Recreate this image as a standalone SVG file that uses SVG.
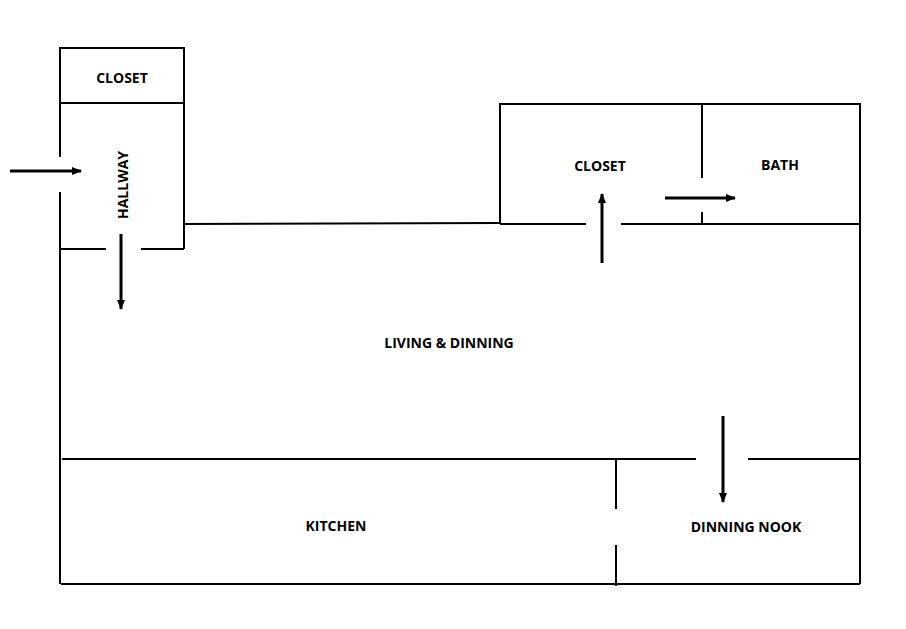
<svg xmlns="http://www.w3.org/2000/svg" width="906" height="629" viewBox="0 0 906 629">
<defs>
<marker id="ah" markerWidth="10" markerHeight="8" refX="9" refY="4" orient="auto" markerUnits="userSpaceOnUse">
<path d="M0,0 L10,4 L0,8 Z" fill="#000"/>
</marker>
<style>
.w{stroke:#000;stroke-width:2;fill:none}
.a{stroke:#000;stroke-width:3;fill:none;marker-end:url(#ah)}
text{font-family:"Open Sans","Liberation Sans",sans-serif;font-weight:bold;font-size:14px;text-anchor:middle;fill:#000}
</style>
</defs>
<rect width="906" height="629" fill="#fff"/>
<g id="walls">
<path class="w" d="M60,48 H184 V103 H60 Z"/>
<path class="w" d="M60,103 V157 M60,192 V584 M184,103 V249 M60,249 H106 M141,249 H184"/>
<path class="w" d="M184,224 L500,223"/>
<path class="w" d="M500,224 V104 H860 V584 M702,104 V178 M702,212 V224 M500,224 H586 M621,224 H860"/>
<path class="w" d="M62,459 H696 M748,459 H860 M616,459 V509 M616,545 V586 M61,584 H860"/>
</g>
<g id="connectors">
<line class="a" x1="10" y1="171" x2="81" y2="171"/>
<line class="a" x1="121" y1="234" x2="121" y2="309"/>
<line class="a" x1="602" y1="263" x2="602" y2="194"/>
<line class="a" x1="665" y1="198" x2="735" y2="198"/>
<line class="a" x1="723" y1="416" x2="723" y2="502"/>
</g>
<g id="closet1"><text x="122" y="83">CLOSET</text></g>
<g id="hallway"><text transform="translate(128,185) rotate(-90)">HALLWAY</text></g>
<g id="closet2"><text x="600" y="171">CLOSET</text></g>
<g id="bath"><text x="780" y="170">BATH</text></g>
<g id="living"><text x="449" y="348">LIVING &amp; DINNING</text></g>
<g id="kitchen"><text x="336" y="531">KITCHEN</text></g>
<g id="nook"><text x="746" y="532">DINNING NOOK</text></g>
</svg>
